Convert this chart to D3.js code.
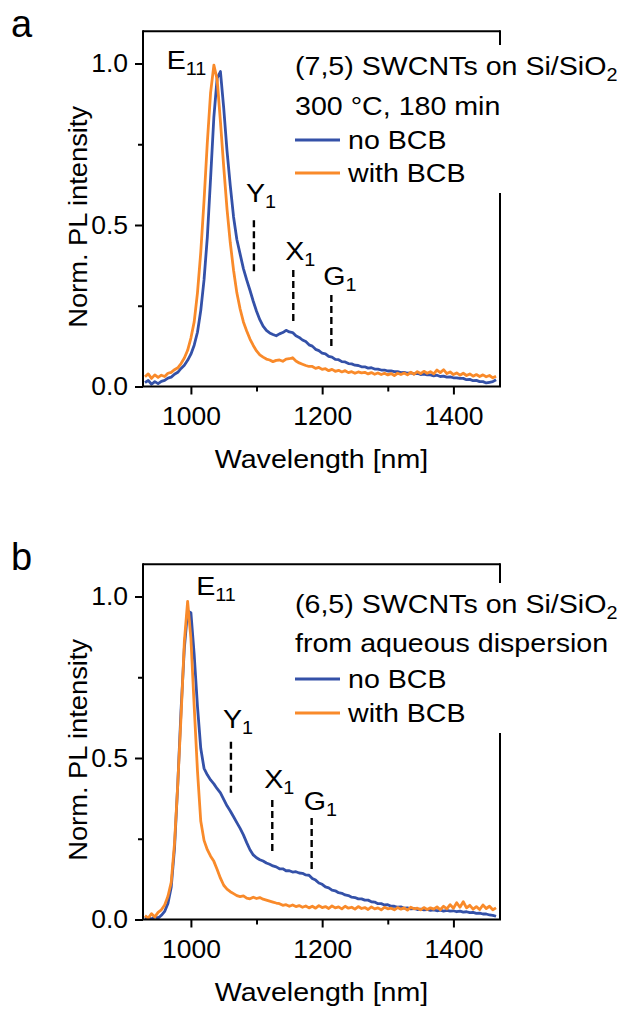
<!DOCTYPE html>
<html>
<head>
<meta charset="utf-8">
<script src="https://cdn.jsdelivr.net/npm/d3@7"></script>
<style>
  body { margin: 0; background: #fff; }
  svg text { font-family: "Liberation Sans", Arial, sans-serif; fill: #000; }
</style>
</head>
<body>
<div id="chart"></div>
<script>
// wavelength grid [nm], shared by all four spectra
const wavelength = [
   930,  935,  940,  945,  950,  955,  960,  965,  970,  975,
   980,  985,  990,  995, 1000, 1005, 1010, 1015, 1020, 1025,
  1030, 1035, 1040, 1045, 1050, 1055, 1060, 1065, 1070, 1075,
  1080, 1085, 1090, 1095, 1100, 1105, 1110, 1115, 1120, 1125,
  1130, 1135, 1140, 1145, 1150, 1155, 1160, 1165, 1170, 1175,
  1180, 1185, 1190, 1195, 1200, 1205, 1210, 1215, 1220, 1225,
  1230, 1235, 1240, 1245, 1250, 1255, 1260, 1265, 1270, 1275,
  1280, 1285, 1290, 1295, 1300, 1305, 1310, 1315, 1320, 1325,
  1330, 1335, 1340, 1345, 1350, 1355, 1360, 1365, 1370, 1375,
  1380, 1385, 1390, 1395, 1400, 1405, 1410, 1415, 1420, 1425,
  1430, 1435, 1440, 1445, 1450, 1455, 1460, 1465
];

// panel a : (7,5) SWCNTs
const noBCB_a = [
  0.012, 0.019, 0.007, 0.015, 0.009, 0.016, 0.019, 0.026, 0.029, 0.038,
  0.044, 0.056, 0.066, 0.081, 0.100, 0.128, 0.168, 0.235, 0.330, 0.462,
  0.645, 0.835, 0.955, 0.975, 0.862, 0.730, 0.622, 0.525, 0.455, 0.410,
  0.365, 0.330, 0.298, 0.264, 0.233, 0.207, 0.187, 0.174, 0.166, 0.161,
  0.157, 0.163, 0.167, 0.174, 0.169, 0.167, 0.157, 0.152, 0.144, 0.139,
  0.129, 0.125, 0.115, 0.111, 0.103, 0.101, 0.093, 0.091, 0.084, 0.083,
  0.077, 0.076, 0.071, 0.070, 0.066, 0.065, 0.061, 0.061, 0.057, 0.058,
  0.054, 0.054, 0.051, 0.051, 0.048, 0.048, 0.046, 0.046, 0.043, 0.044,
  0.041, 0.042, 0.039, 0.041, 0.037, 0.038, 0.036, 0.036, 0.033, 0.035,
  0.031, 0.032, 0.029, 0.030, 0.027, 0.027, 0.025, 0.025, 0.021, 0.022,
  0.018, 0.019, 0.015, 0.015, 0.011, 0.013, 0.015, 0.021
];
const withBCB_a = [
  0.030, 0.039, 0.025, 0.036, 0.028, 0.035, 0.031, 0.041, 0.044, 0.052,
  0.058, 0.071, 0.088, 0.112, 0.150, 0.200, 0.290, 0.415, 0.575, 0.755,
  0.910, 0.995, 0.950, 0.820, 0.680, 0.550, 0.445, 0.360, 0.290, 0.240,
  0.200, 0.172, 0.147, 0.127, 0.110, 0.098, 0.091, 0.085, 0.082, 0.077,
  0.081, 0.082, 0.078, 0.085, 0.086, 0.089, 0.079, 0.073, 0.069, 0.065,
  0.062, 0.062, 0.056, 0.059, 0.053, 0.055, 0.049, 0.053, 0.047, 0.050,
  0.045, 0.049, 0.043, 0.046, 0.041, 0.045, 0.042, 0.044, 0.039, 0.043,
  0.038, 0.042, 0.037, 0.041, 0.036, 0.040, 0.034, 0.041, 0.037, 0.042,
  0.036, 0.044, 0.038, 0.046, 0.040, 0.047, 0.041, 0.046, 0.039, 0.051,
  0.043, 0.052, 0.040, 0.045, 0.037, 0.042, 0.035, 0.041, 0.034, 0.039,
  0.032, 0.037, 0.031, 0.036, 0.030, 0.034, 0.027, 0.032
];

// panel b : (6,5) SWCNTs
const noBCB_b = [
  0.002, 0.007, 0.001, 0.009, 0.004, 0.013, 0.025, 0.050, 0.100, 0.220,
  0.420, 0.650, 0.840, 0.955, 0.950, 0.820, 0.660, 0.530, 0.468, 0.448,
  0.432, 0.420, 0.405, 0.392, 0.372, 0.352, 0.336, 0.318, 0.300, 0.282,
  0.262, 0.238, 0.216, 0.200, 0.191, 0.185, 0.181, 0.175, 0.171, 0.166,
  0.163, 0.157, 0.157, 0.151, 0.151, 0.147, 0.148, 0.144, 0.143, 0.138,
  0.137, 0.127, 0.122, 0.113, 0.109, 0.101, 0.098, 0.091, 0.089, 0.083,
  0.081, 0.076, 0.074, 0.069, 0.068, 0.064, 0.064, 0.060, 0.060, 0.055,
  0.054, 0.049, 0.049, 0.045, 0.046, 0.041, 0.041, 0.038, 0.039, 0.035,
  0.036, 0.033, 0.034, 0.031, 0.032, 0.030, 0.031, 0.028, 0.030, 0.027,
  0.029, 0.026, 0.028, 0.026, 0.027, 0.024, 0.026, 0.023, 0.024, 0.021,
  0.022, 0.019, 0.020, 0.017, 0.017, 0.014, 0.013, 0.010
];
const withBCB_b = [
  0.012, 0.004, 0.018, 0.008, 0.022, 0.030, 0.045, 0.072, 0.115, 0.235,
  0.420, 0.630, 0.860, 0.985, 0.870, 0.660, 0.460, 0.305, 0.245, 0.216,
  0.196, 0.180, 0.155, 0.128, 0.106, 0.094, 0.086, 0.080, 0.074, 0.071,
  0.073, 0.066, 0.064, 0.069, 0.065, 0.068, 0.063, 0.060, 0.057, 0.054,
  0.051, 0.049, 0.044, 0.046, 0.041, 0.045, 0.040, 0.043, 0.038, 0.042,
  0.036, 0.041, 0.035, 0.043, 0.037, 0.040, 0.034, 0.042, 0.036, 0.039,
  0.033, 0.041, 0.035, 0.038, 0.032, 0.040, 0.034, 0.037, 0.031, 0.039,
  0.033, 0.036, 0.030, 0.038, 0.033, 0.035, 0.030, 0.037, 0.032, 0.036,
  0.029, 0.038, 0.033, 0.035, 0.030, 0.037, 0.031, 0.036, 0.032, 0.039,
  0.030, 0.041, 0.033, 0.046, 0.035, 0.052, 0.038, 0.055, 0.036, 0.044,
  0.032, 0.040, 0.031, 0.045, 0.034, 0.041, 0.030, 0.036
];

// ticks
const xTicks = [1000, 1200, 1400];
const xMinorTicks = [1100, 1300];
const yTicks = [0.0, 0.5, 1.0];
const yMinorTicks = [0.25, 0.75];

// peak markers (dashed lines): wavelength, top and bottom intensity, label height
const peakNames = ["Y", "X", "G"];
const peakNm_a = [1096, 1156, 1214];
const peakTop_a = [0.515, 0.361, 0.283];
const peakBottom_a = [0.351, 0.200, 0.122];
const peakLabel_a = [0.571, 0.392, 0.314];
const peakNm_b = [1061, 1124, 1184];
const peakTop_b = [0.550, 0.370, 0.314];
const peakBottom_b = [0.392, 0.206, 0.153];
const peakLabel_b = [0.593, 0.407, 0.339];

// E11 label anchor
const e11Nm = [963, 1008];
const e11Int = [0.983, 1.005];

const seriesNames = ["no BCB", "with BCB"];
const legendHead_a = ["(7,5) SWCNTs on Si/SiO", "300 °C, 180 min"];
const legendHead_b = ["(6,5) SWCNTs on Si/SiO", "from aqueous dispersion"];

const blue = "#3451a8";
const orange = "#f98a2a";

const panels = [
  { tag: "a", axisY: 386.5, noBCB: noBCB_a, withBCB: withBCB_a, head: legendHead_a,
    legendYs: [75, 115, 149, 182],
    peaks: { nm: peakNm_a, top: peakTop_a, bottom: peakBottom_a, lab: peakLabel_a } },
  { tag: "b", axisY: 919.5, noBCB: noBCB_b, withBCB: withBCB_b, head: legendHead_b,
    legendYs: [613, 652, 688, 722],
    peaks: { nm: peakNm_b, top: peakTop_b, bottom: peakBottom_b, lab: peakLabel_b } }
];

const W = 620, H = 1009;
const plotLeft = 143, plotRight = 500, plotH = 355.3;
const fs = 26, subFs = 18;
const sxText = 1.1, sxTick = 1.02, sxYTitle = 1.05; // horizontal widening of the glyphs

const svg = d3.select("#chart").append("svg")
  .attr("width", W).attr("height", H);

const x = d3.scaleLinear().domain([927, 1471]).range([plotLeft, plotRight]);

// text with an optional subscript, slightly widened like the original
function addText(sel, px, py, main, sub, anchor) {
  const t = sel.append("text")
    .attr("transform", `translate(${px},${py}) scale(${sxText},1)`)
    .attr("font-size", fs)
    .attr("text-anchor", anchor || "start");
  t.append("tspan").text(main);
  if (sub) t.append("tspan").attr("dy", 6).attr("font-size", subFs).text(sub);
  return t;
}

panels.forEach((p, pi) => {
  const y = d3.scaleLinear().domain([0, 1.1]).range([p.axisY, p.axisY - plotH]);
  const top = p.axisY - plotH;
  const g = svg.append("g");

  g.append("clipPath").attr("id", "clip" + p.tag)
    .append("rect")
    .attr("x", plotLeft).attr("y", top)
    .attr("width", plotRight - plotLeft).attr("height", plotH);

  // spectra: blue first, orange on top
  const line = d3.line()
    .x((d, i) => x(wavelength[i]))
    .y(d => y(d));
  [[p.noBCB, blue], [p.withBCB, orange]].forEach(([vals, col]) => {
    g.append("path")
      .datum(vals)
      .attr("clip-path", `url(#clip${p.tag})`)
      .attr("fill", "none")
      .attr("stroke", col)
      .attr("stroke-width", 2.8)
      .attr("stroke-linejoin", "round")
      .attr("d", line);
  });

  // dashed peak markers
  p.peaks.nm.forEach((nm, i) => {
    g.append("line")
      .attr("x1", x(nm)).attr("x2", x(nm))
      .attr("y1", y(p.peaks.top[i])).attr("y2", y(p.peaks.bottom[i]))
      .attr("stroke", "#000").attr("stroke-width", 2.4)
      .attr("stroke-dasharray", "7,4");
    addText(g, x(nm) - 8, y(p.peaks.lab[i]), peakNames[i], "1");
  });

  // E11 label
  addText(g, x(e11Nm[pi]), y(e11Int[pi]), "E", "11");

  // top and right frame
  g.append("line").attr("x1", plotLeft).attr("x2", plotRight)
    .attr("y1", top).attr("y2", top)
    .attr("stroke", "#000").attr("stroke-width", 2);
  g.append("line").attr("x1", plotRight).attr("x2", plotRight)
    .attr("y1", top - 1).attr("y2", p.axisY)
    .attr("stroke", "#000").attr("stroke-width", 2);

  // axes
  const xAxis = g.append("g").attr("transform", `translate(0,${p.axisY})`)
    .call(d3.axisBottom(x).tickValues(xTicks).tickSize(8).tickSizeOuter(0).tickFormat(d3.format("d")));
  const xMinor = g.append("g").attr("transform", `translate(0,${p.axisY})`)
    .call(d3.axisBottom(x).tickValues(xMinorTicks).tickSize(5).tickFormat(""));
  xMinor.select(".domain").remove();
  xAxis.selectAll("text").attr("y", 20).attr("font-size", fs).attr("font-family", null)
    .attr("transform", `scale(${sxTick},1)`);

  const yAxis = g.append("g").attr("transform", `translate(${plotLeft},0)`)
    .call(d3.axisLeft(y).tickValues(yTicks).tickSize(8).tickSizeOuter(0).tickFormat(d3.format(".1f")));
  const yMinor = g.append("g").attr("transform", `translate(${plotLeft},0)`)
    .call(d3.axisLeft(y).tickValues(yMinorTicks).tickSize(5).tickFormat(""));
  yMinor.select(".domain").remove();
  yAxis.selectAll("text").attr("x", -15 / sxTick).attr("font-size", fs).attr("font-family", null)
    .attr("transform", `scale(${sxTick},1)`);

  [xAxis, xMinor, yAxis, yMinor].forEach(a => {
    a.selectAll("path, line").attr("stroke", "#000").attr("stroke-width", 2);
  });
  yAxis.select(".domain").attr("d", `M0,${p.axisY}V${top - 1}`);
  xAxis.select(".domain").attr("d", `M${plotLeft - 1},0H${plotRight + 1}`);

  // axis titles
  addText(g, (plotLeft + plotRight) / 2, p.axisY + 81.5, "Wavelength [nm]", null, "middle");
  g.append("text")
    .attr("transform", `translate(87,${(top + p.axisY) / 2 + 8}) rotate(-90) scale(${sxYTitle},1)`)
    .attr("font-size", fs)
    .attr("text-anchor", "middle")
    .text("Norm. PL intensity");

  // legend (white box hides part of the right frame)
  const ly = p.legendYs;
  g.append("rect")
    .attr("x", 288).attr("y", ly[0] - 30)
    .attr("width", W - 288).attr("height", ly[3] - ly[0] + 41)
    .attr("fill", "#fff");
  addText(g, 295, ly[0], p.head[0], "2");
  addText(g, 295, ly[1], p.head[1]);
  [blue, orange].forEach((col, i) => {
    g.append("line")
      .attr("x1", 295).attr("x2", 340)
      .attr("y1", ly[2 + i] - 9).attr("y2", ly[2 + i] - 9)
      .attr("stroke", col).attr("stroke-width", 2.8);
    addText(g, 348, ly[2 + i], seriesNames[i]);
  });

  // panel letter
  svg.append("text")
    .attr("x", 11).attr("y", p.axisY - 349.5)
    .attr("font-size", 38)
    .text(p.tag);
});
</script>
</body>
</html>
